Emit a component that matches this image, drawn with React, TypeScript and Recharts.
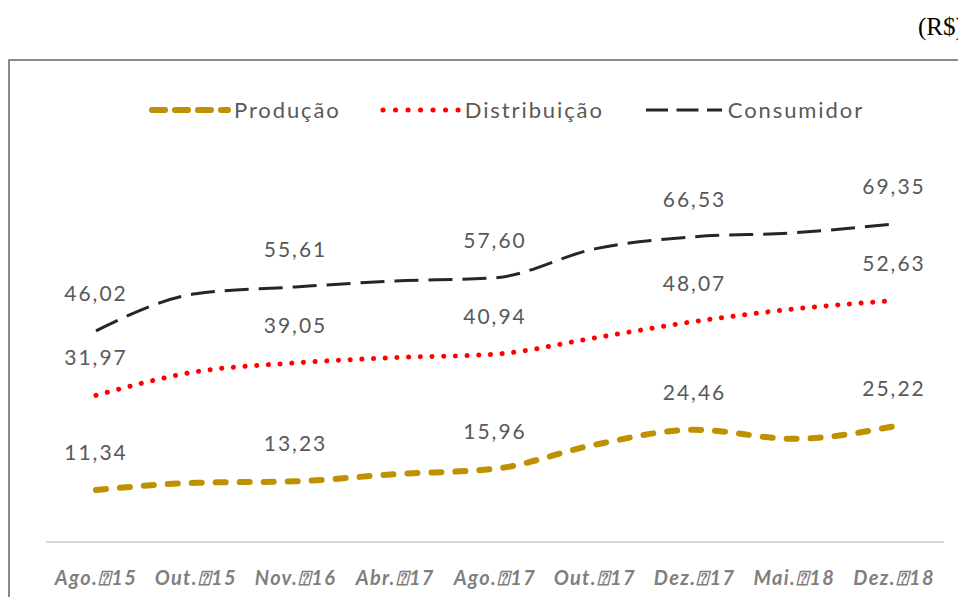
import { LineChart, Line, XAxis, YAxis } from "recharts";

// periods (the tofu glyph in the original labels is kept as a box character)
const categories = [
  "Ago.⍰15",
  "Out.⍰15",
  "Nov.⍰16",
  "Abr.⍰17",
  "Ago.⍰17",
  "Out.⍰17",
  "Dez.⍰17",
  "Mai.⍰18",
  "Dez.⍰18",
];
const producao = [11.34, 12.9, 13.23, 14.8, 15.96, 21.2, 24.46, 22.5, 25.22];
const distribuicao = [31.97, 37.1, 39.05, 40.2, 40.94, 44.5, 48.07, 50.8, 52.63];
const consumidor = [46.02, 54.1, 55.61, 56.9, 57.6, 63.9, 66.53, 67.4, 69.35];

const data = categories.map((name, i) => ({
  name,
  producao: producao[i],
  distribuicao: distribuicao[i],
  consumidor: consumidor[i],
}));

const labelFont = "Lato, 'Open Sans', sans-serif";
const gray = "#595959";

const series = [
  { key: "producao", name: "Produção", color: "#BF9000", width: 6, dash: "10 14", legendDash: "13 10" },
  { key: "distribuicao", name: "Distribuição", color: "#FF0000", width: 5, dash: "0.1 11.6", legendDash: "0.1 12.4" },
  { key: "consumidor", name: "Consumidor", color: "#262626", width: 3, dash: "24 10", legendDash: "22 8.5" },
];

const fmt = (v: number) => v.toFixed(2).replace(".", ",");

const renderLabel = (props: any) => {
  const { x, y, index, value } = props;
  if (index % 2 !== 0) return <g key={`l-${index}`} />;
  return (
    <text
      key={`l-${index}`}
      x={x}
      y={y - 30}
      textAnchor="middle"
      fill={gray}
      fontSize={21}
      letterSpacing={2}
      fontFamily={labelFont}
    >
      {fmt(value)}
    </text>
  );
};

const AxisTick = (props: any) => {
  const { x, y, payload } = props;
  return (
    <text
      x={x}
      y={y + 43}
      textAnchor="middle"
      fill="#7F7F7F"
      fontSize={20}
      fontWeight="bold"
      fontStyle="italic"
      letterSpacing={1.3}
      fontFamily={labelFont}
    >
      {payload.value}
    </text>
  );
};

const ChartLegend = () => (
  <div
    style={{
      position: "absolute",
      left: 140,
      top: 88,
      display: "flex",
      alignItems: "center",
      fontFamily: labelFont,
    }}
  >
    {series.map((s, i) => (
      <div
        key={s.key}
        style={{ display: "flex", alignItems: "center", marginRight: i < 2 ? 38 : 0 }}
      >
        <svg width={84} height={12}>
          <line
            x1={4}
            y1={6}
            x2={80}
            y2={6}
            stroke={s.color}
            strokeWidth={s.width}
            strokeDasharray={s.legendDash}
            strokeLinecap={s.key === "consumidor" ? "butt" : "round"}
          />
        </svg>
        <span style={{ fontSize: 22, color: gray, letterSpacing: 1.9, marginLeft: 2 }}>
          {s.name}
        </span>
      </div>
    ))}
  </div>
);

export default function App() {
  return (
    <div style={{ position: "relative", width: 958, height: 589, overflow: "hidden" }}>
      <div
        style={{
          position: "absolute",
          left: 910,
          top: 5,
          whiteSpace: "nowrap",
          fontFamily: "'Liberation Serif', 'Times New Roman', serif",
          fontSize: 25,
          color: "#000",
        }}
      >
        (R$)
      </div>
      <div
        style={{
          position: "absolute",
          left: 0,
          top: 51,
          width: 1000,
          height: 600,
          border: "2px solid #8A8A8A",
          boxSizing: "border-box",
        }}
      />
      <div style={{ position: "absolute", left: 0, top: 52 }}>
        <LineChart
          width={958}
          height={537}
          data={data}
          margin={{ top: 115, right: 22, left: 38, bottom: 15 }}
        >
          <XAxis
            dataKey="name"
            padding={{ left: 50, right: 50 }}
            height={40}
            tickLine={false}
            tickSize={0}
            tickMargin={0}
            interval={0}
            axisLine={{ stroke: "#D9D9D9", strokeWidth: 2 }}
            tick={<AxisTick />}
          />
          <YAxis hide domain={[0, 80]} />
          {series.map((s) => (
            <Line
              key={s.key}
              type="monotone"
              dataKey={s.key}
              name={s.name}
              stroke={s.color}
              strokeWidth={s.width}
              strokeDasharray={s.dash}
              strokeLinecap={s.key === "consumidor" ? "butt" : "round"}
              dot={false}
              activeDot={false}
              isAnimationActive={false}
              label={renderLabel}
            />
          ))}
        </LineChart>
      </div>
      <ChartLegend />
    </div>
  );
}
